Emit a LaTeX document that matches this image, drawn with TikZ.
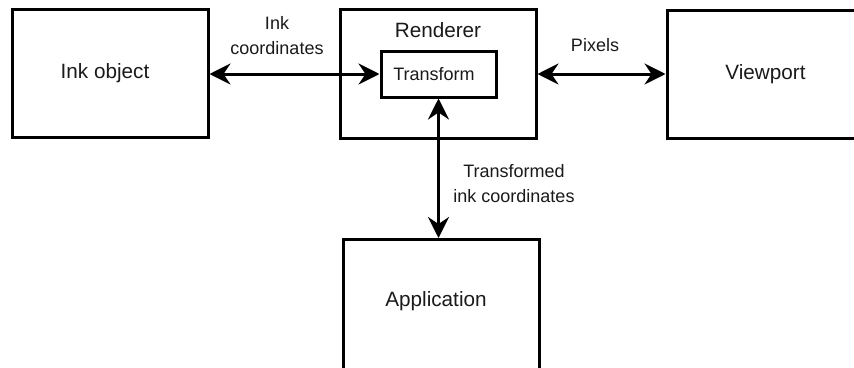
\documentclass[tikz,border=0pt]{standalone}
\usepackage{fontspec}
\setmainfont{Liberation Sans}
\usetikzlibrary{arrows.meta}
\definecolor{txt}{HTML}{1A1A1A}
\tikzset{
  box/.style={draw=black, line width=3pt, rectangle, inner sep=0pt, text=txt,
              font=\fontsize{20.7}{24}\selectfont},
  innerbox/.style={draw=black, line width=3pt, rectangle, inner sep=0pt, text=txt,
              font=\fontsize{18}{22}\selectfont},
  edgelabel/.style={text=txt, align=center, inner sep=0pt,
              font=\fontsize{18}{25}\selectfont},
  conn/.style={line width=3pt, {Stealth[length=21pt,width=21pt,inset=7pt]}-{Stealth[length=21pt,width=21pt,inset=7pt]}}
}
\begin{document}
\begin{tikzpicture}[x=1pt,y=-1pt]
\useasboundingbox (0,0) rectangle (854,367);
\clip (0,0) rectangle (854,367);
\fill[white] (0,0) rectangle (854,367);
% boxes
\node[box, minimum width=196pt, minimum height=128pt] (ink) at (110,73) {\hspace*{-10pt}Ink object};
\node[box, minimum width=196pt, anchor=north, text height=28pt, text depth=101pt] (renderer) at (438,8) {Renderer};
\node[innerbox, minimum width=115pt, minimum height=46pt] (transform) at (438.5,74) {\hspace*{-9pt}Transform};
\node[box, minimum width=197pt, minimum height=128pt] (viewport) at (765.5,74) {Viewport};
\node[box, minimum width=196pt, anchor=north, text height=67pt, text depth=67pt] (app) at (441,238) {\hspace*{-10pt}Application};
% connectors
\draw[conn] (ink.east|-transform.west) -- (transform.west);
\draw[conn] (renderer.east|-viewport.west) -- (viewport.west);
\draw[conn] (transform.south) -- (transform.south|-app.north);
% labels
\node[edgelabel] (lblink) at (277,36) {Ink\\coordinates};
\node[edgelabel] (lblpix) at (595,45) {Pixels};
\node[edgelabel] (lbltr) at (514,183.5) {Transformed\\ink coordinates};
\end{tikzpicture}
\end{document}
